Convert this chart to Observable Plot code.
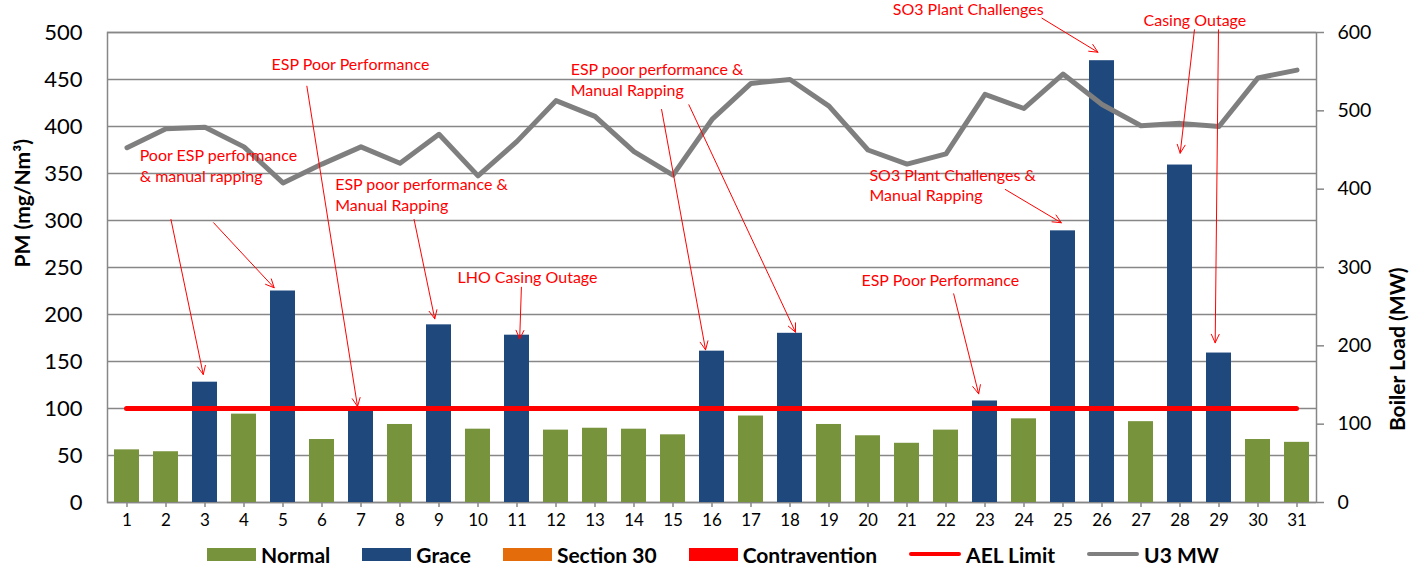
<!DOCTYPE html>
<html>
<head>
<meta charset="utf-8">
<script src="https://cdn.jsdelivr.net/npm/d3@7"></script>
<script src="https://cdn.jsdelivr.net/npm/@observablehq/plot@0.6"></script>
<style>
  html, body { margin: 0; padding: 0; background: #fff; }
  body { width: 1426px; height: 570px; overflow: hidden; font-family: Lato, sans-serif; }
  #legend { height: 32px; display: flex; justify-content: center; align-items: center; gap: 32px;
            font-family: Lato, sans-serif; font-weight: bold; font-size: 21px; color: #000; }
  .item { display: flex; align-items: center; gap: 5px; }
  .sw { width: 49px; height: 13px; }
  .ln { width: 52px; height: 4px; border-radius: 2px; }
</style>
</head>
<body>
<div id="chart"></div>
<div id="legend"></div>
<script>
// ---- data ----
const days = [1,2,3,4,5,6,7,8,9,10,11,12,13,14,15,16,17,18,19,20,21,22,23,24,25,26,27,28,29,30,31];
const pm = [56,54,128,94,225,67,101,83,189,78,178,77,79,78,72,161,92,180,83,71,63,77,108,89,289,470,86,359,159,67,64];
const status = ["Normal","Normal","Grace","Normal","Grace","Normal","Grace","Normal","Grace","Normal","Grace","Normal","Normal","Normal","Normal","Grace","Normal","Grace","Normal","Normal","Normal","Normal","Grace","Normal","Grace","Grace","Normal","Grace","Grace","Normal","Normal"];
const mw = [453,477,479,454,408,432,454,433,470,417,461,513,493,448,418,489,535,540,506,450,432,445,521,503,547,508,481,484,480,542,552];
const aelLimit = 100;
const categories = ["Normal","Grace","Section 30","Contravention"];
const catColors = ["#77933C","#1F497D","#E46C0A","#FF0000"];
const leftTicks = [0,50,100,150,200,250,300,350,400,450,500];
const rightTicks = [0,100,200,300,400,500,600];
const leftMax = 500, rightMax = 600;

// annotation labels (x in day units, y in PM units)
const noteText = [
  "Poor ESP performance\n& manual rapping",
  "ESP Poor Performance",
  "ESP poor performance &\nManual Rapping",
  "LHO Casing Outage",
  "ESP poor performance &\nManual Rapping",
  "SO3 Plant Challenges &\nManual Rapping",
  "ESP Poor Performance",
  "SO3 Plant Challenges",
  "Casing Outage"
];
const noteX = [1.325, 4.707, 6.337, 9.473, 12.376, 20.037, 19.832, 20.634, 27.065];
const noteY = [358.8, 466.7, 328.2, 240.4, 451.1, 338.5, 236.9, 525.5, 513.5];
// annotation arrows
const arrowX1 = [2.127, 3.221, 5.612, 8.361, 11.113, 14.707, 15.407, 22.197, 23.521, 24.461, 28.371, 28.987];
const arrowY1 = [301.1, 297.6, 442.9, 301.1, 229.0, 418.1, 423.1, 222.0, 333.0, 515.2, 502.9, 502.9];
const arrowX2 = [2.955, 4.774, 6.911, 8.891, 11.069, 15.835, 18.141, 22.837, 24.956, 25.896, 28.005, 28.902];
const arrowY2 = [136.2, 228.4, 102.1, 195.4, 174.1, 162.4, 181.2, 115.6, 297.6, 479.0, 371.6, 169.9];

// ---- tables ----
const rows = days.map((d, i) => ({day: d, pm: pm[i], status: status[i], mw: mw[i]}));
const notes = noteText.map((t, i) => ({text: t, x: noteX[i], y: noteY[i]}));
const arrows = arrowX1.map((_, i) => ({x1: arrowX1[i], y1: arrowY1[i], x2: arrowX2[i], y2: arrowY2[i]}));
const toLeft = v => v * leftMax / rightMax;
const gridColor = "#878787";

const chart = Plot.plot({
  width: 1426,
  height: 538,
  marginLeft: 107,
  marginRight: 110,
  marginTop: 32,
  marginBottom: 36,
  style: {fontFamily: "Lato, sans-serif", background: "#fff", overflow: "visible"},
  x: {type: "linear", domain: [0.5, 31.5]},
  y: {domain: [0, leftMax]},
  color: {domain: categories, range: catColors},
  marks: [
    Plot.gridY(leftTicks, {stroke: gridColor, strokeOpacity: 1, strokeWidth: 1.5}),
    Plot.frame({stroke: gridColor, strokeWidth: 1.5}),
    Plot.rectY(rows, {x1: d => d.day - 0.5, x2: d => d.day + 0.5, y1: 0, y2: "pm", fill: "status", insetLeft: 7, insetRight: 7}),
    Plot.ruleY([aelLimit], {x1: days[0], x2: days[days.length - 1], stroke: "#FF0000", strokeWidth: 5, strokeLinecap: "round"}),
    Plot.line(rows, {x: "day", y: d => toLeft(d.mw), stroke: "#7F7F7F", strokeWidth: 5, strokeLinejoin: "round"}),
    Plot.axisY(leftTicks, {tickSize: 0, tickPadding: 25, fontSize: 22, label: null}),
    Plot.axisY(rightTicks.map(toLeft), {anchor: "right", tickSize: 7, tickPadding: 14, fontSize: 19.5, stroke: gridColor, strokeWidth: 1.5, label: null, tickFormat: v => Math.round(v * rightMax / leftMax)}),
    Plot.axisX(days, {tickSize: 5, tickPadding: 6, fontSize: 17, stroke: gridColor, strokeWidth: 1.5, label: null}),
    Plot.text(["PM (mg/Nm³)"], {frameAnchor: "left", dx: -84, rotate: -90, fontSize: 21, fontWeight: "bold", fill: "#000"}),
    Plot.text(["Boiler Load (MW)"], {frameAnchor: "right", dx: 82, rotate: -90, fontSize: 21, fontWeight: "bold", fill: "#000"}),
    Plot.arrow(arrows, {x1: "x1", y1: "y1", x2: "x2", y2: "y2", stroke: "#FF0000", strokeWidth: 1, headLength: 14, headAngle: 50}),
    Plot.text(notes, {x: "x", y: "y", text: "text", textAnchor: "start", lineAnchor: "middle", lineHeight: 1.3, fill: "#FF0000", fontSize: 16})
  ]
});
document.getElementById("chart").appendChild(chart);

// ---- legend ----
const legend = document.getElementById("legend");
const legendItems = [
  ...categories.map((c, i) => ({label: c, color: catColors[i], kind: "sw"})),
  {label: "AEL Limit", color: "#FF0000", kind: "ln"},
  {label: "U3 MW", color: "#7F7F7F", kind: "ln"}
];
for (const it of legendItems) {
  const item = document.createElement("div");
  item.className = "item";
  const s = document.createElement("span");
  s.className = it.kind;
  s.style.background = it.color;
  const t = document.createElement("span");
  t.textContent = it.label;
  item.appendChild(s);
  item.appendChild(t);
  legend.appendChild(item);
}
</script>
</body>
</html>
